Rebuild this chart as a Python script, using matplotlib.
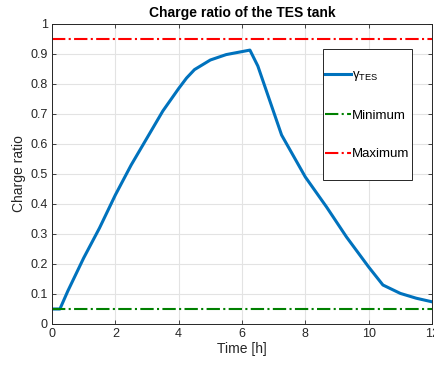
import matplotlib
matplotlib.use('Agg')
import matplotlib.pyplot as plt
import matplotlib.patches as mpatches
import numpy as np

plt.rcParams['font.family'] = ['Liberation Sans', 'DejaVu Sans']
plt.rcParams['mathtext.fontset'] = 'custom'
plt.rcParams['mathtext.rm'] = 'Liberation Sans'
plt.rcParams['mathtext.it'] = 'Liberation Sans:italic'

# charge ratio of the tank
time_h = [0.0, 0.25, 0.5, 1.0, 1.5, 2.0, 2.5, 3.0, 3.5, 4.0, 4.25, 4.5, 5.0,
          5.5, 6.0, 6.25, 6.5, 7.25, 8.0, 8.67, 9.3, 10.0, 10.45, 11.0,
          11.5, 12.0]
gamma_tes = [0.05, 0.05, 0.11, 0.22, 0.32, 0.43, 0.53, 0.62, 0.71, 0.785,
             0.82, 0.848, 0.88, 0.898, 0.908, 0.913, 0.86, 0.63, 0.49, 0.39,
             0.29, 0.19, 0.13, 0.102, 0.086, 0.074]
gamma_min = 0.05
gamma_max = 0.95

fig = plt.figure(figsize=(4.35, 3.68), dpi=100)
ax = fig.add_axes([52 / 435, 44 / 368, 380 / 435, 300 / 368])

ax.plot(time_h, gamma_tes, color='#0072BD', linewidth=2.2,
        label=r'$\mathrm{\gamma}_{\mathrm{TES}}$')
ax.plot([0, 12], [gamma_min, gamma_min], color='#008000', linewidth=1.5,
        linestyle='-.', label='Minimum')
ax.plot([0, 12], [gamma_max, gamma_max], color='#FF0000', linewidth=1.5,
        linestyle='-.', label='Maximum')

ax.set_xlim(0, 12)
ax.set_ylim(0, 1)
ax.set_xticks(np.arange(0, 13, 2))
ax.set_yticks(np.arange(0, 1.01, 0.1))
ax.set_yticklabels(['0', '0.1', '0.2', '0.3', '0.4', '0.5', '0.6', '0.7',
                    '0.8', '0.9', '1'])
ax.grid(True, color='#e3e3e3', linewidth=0.8)
ax.set_axisbelow(True)
ax.tick_params(direction='in', length=3, labelsize=9, colors='#262626',
               top=True, right=True, width=0.6, pad=3)
for s in ax.spines.values():
    s.set_color('#262626')
    s.set_linewidth(0.7)

ax.set_xlabel('Time [h]', fontsize=10, color='#262626', labelpad=1)
ax.set_ylabel('Charge ratio', fontsize=10, color='#262626', labelpad=3)
ax.set_title('Charge ratio of the TES tank', fontsize=10, fontweight='bold', pad=5)

# legend entries without frame, box drawn separately (MATLAB-like tall box)
leg = ax.legend(loc='upper left', bbox_to_anchor=(0.719, 0.85), fontsize=9.5,
                labelspacing=2.0, handlelength=1.95, handletextpad=0.1,
                borderpad=0, borderaxespad=0, frameon=False)
ax.add_patch(mpatches.Rectangle((0.712, 0.48), 0.2344, 0.437,
                                transform=ax.transAxes, facecolor='white',
                                edgecolor='#262626', linewidth=0.7, zorder=4))
leg.set_zorder(5)

fig.savefig('out.png', dpi=100)
